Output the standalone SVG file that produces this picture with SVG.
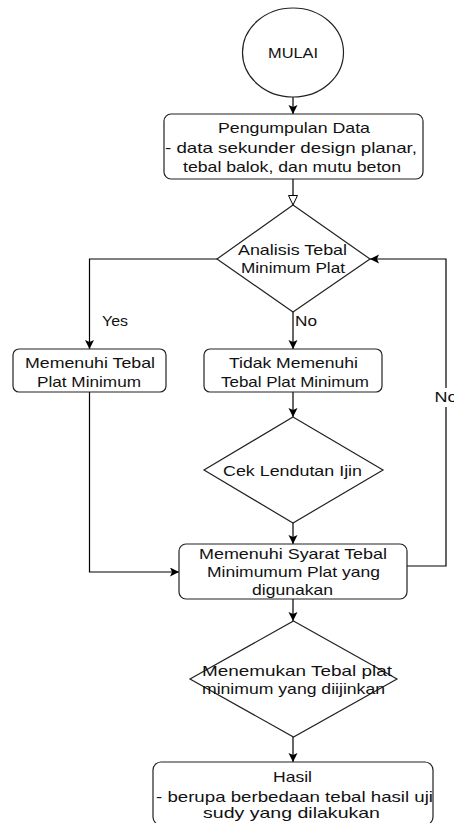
<svg xmlns="http://www.w3.org/2000/svg" width="454" height="823" viewBox="0 0 454 823">
<defs>
<marker id="arr" markerUnits="userSpaceOnUse" markerWidth="10" markerHeight="10" refX="9" refY="4.5" orient="auto">
<path d="M0,0 L9,4.5 L0,9 L2,4.5 Z" fill="#000"/>
</marker>
<marker id="open" markerUnits="userSpaceOnUse" markerWidth="12" markerHeight="12" refX="10" refY="5" orient="auto">
<path d="M0.5,0.5 L10,5 L0.5,9.5 Z" fill="#fff" stroke="#000" stroke-width="1"/>
</marker>
<style>
.s{fill:#fff;stroke:#222;stroke-width:1.2}
.c{fill:none;stroke:#000;stroke-width:1.2}
text{font-family:"Liberation Sans",Arial,sans-serif;font-size:15px;fill:#111}
.m{text-anchor:middle}
</style>
</defs>
<rect width="454" height="823" fill="#fff"/>
<g id="connectors">
<path class="c" d="M293,97 V114" marker-end="url(#arr)"/>
<path class="c" d="M293,179 V205" marker-end="url(#open)"/>
<path class="c" d="M217,259 H89.5 V349" marker-end="url(#arr)"/>
<path class="c" d="M293,312 V349" marker-end="url(#arr)"/>
<path class="c" d="M293,392 V417" marker-end="url(#arr)"/>
<path class="c" d="M293,523 V544" marker-end="url(#arr)"/>
<path class="c" d="M89.5,392 V572 H179" marker-end="url(#arr)"/>
<path class="c" d="M407,566 H446 V259 H370" marker-end="url(#arr)"/>
<path class="c" d="M293,599 V621" marker-end="url(#arr)"/>
<path class="c" d="M293,737 V762" marker-end="url(#arr)"/>
<text x="102" y="326" textLength="26" lengthAdjust="spacingAndGlyphs">Yes</text>
<text x="295" y="326" textLength="22" lengthAdjust="spacingAndGlyphs">No</text>
<rect x="434" y="388" width="20" height="19" fill="#fff"/>
<text x="446" y="402" class="m" textLength="23" lengthAdjust="spacingAndGlyphs">No</text>
</g>
<g id="mulai">
<ellipse class="s" cx="293" cy="52.5" rx="50.5" ry="44.5"/>
<text x="293" y="58" class="m" textLength="50" lengthAdjust="spacingAndGlyphs">MULAI</text>
</g>
<g id="pengumpulan">
<rect class="s" x="164" y="114" width="259" height="65" rx="7"/>
<text x="294" y="133" class="m" textLength="152" lengthAdjust="spacingAndGlyphs">Pengumpulan Data</text>
<text x="291" y="152.5" class="m" textLength="252" lengthAdjust="spacingAndGlyphs">- data sekunder design planar,</text>
<text x="292" y="172" class="m" textLength="218" lengthAdjust="spacingAndGlyphs">tebal balok, dan mutu beton</text>
</g>
<g id="analisis">
<polygon class="s" points="293,205 370,259 293,312 217,259"/>
<text x="292.5" y="255" class="m" textLength="109" lengthAdjust="spacingAndGlyphs">Analisis Tebal</text>
<text x="293" y="273" class="m" textLength="104" lengthAdjust="spacingAndGlyphs">Minimum Plat</text>
</g>
<g id="memenuhi">
<rect class="s" x="13" y="349" width="153" height="43" rx="6"/>
<text x="90" y="368" class="m" textLength="130" lengthAdjust="spacingAndGlyphs">Memenuhi Tebal</text>
<text x="89" y="387" class="m" textLength="104" lengthAdjust="spacingAndGlyphs">Plat Minimum</text>
</g>
<g id="tidak">
<rect class="s" x="204" y="349" width="178" height="43" rx="6"/>
<text x="293.5" y="368" class="m" textLength="129" lengthAdjust="spacingAndGlyphs">Tidak Memenuhi</text>
<text x="295" y="387" class="m" textLength="148" lengthAdjust="spacingAndGlyphs">Tebal Plat Minimum</text>
</g>
<g id="cek">
<polygon class="s" points="293,417 383,470 293,523 204,470"/>
<text x="292.5" y="476" class="m" textLength="139" lengthAdjust="spacingAndGlyphs">Cek Lendutan Ijin</text>
</g>
<g id="syarat">
<rect class="s" x="179" y="544" width="228" height="55" rx="7"/>
<text x="293" y="559" class="m" textLength="188" lengthAdjust="spacingAndGlyphs">Memenuhi Syarat Tebal</text>
<text x="293.5" y="577" class="m" textLength="173" lengthAdjust="spacingAndGlyphs">Minimumum Plat yang</text>
<text x="292.5" y="595" class="m" textLength="81" lengthAdjust="spacingAndGlyphs">digunakan</text>
</g>
<g id="menemukan">
<polygon class="s" points="293.5,621 397,679 293.5,737 190,679"/>
<text x="297" y="676" class="m" textLength="190" lengthAdjust="spacingAndGlyphs">Menemukan Tebal plat</text>
<text x="293.5" y="694" class="m" textLength="183" lengthAdjust="spacingAndGlyphs">minimum yang diijinkan</text>
</g>
<g id="hasil">
<rect class="s" x="153" y="762" width="280" height="63" rx="8"/>
<text x="292.5" y="782" class="m" textLength="39" lengthAdjust="spacingAndGlyphs">Hasil</text>
<text x="294.5" y="802" class="m" textLength="277" lengthAdjust="spacingAndGlyphs">- berupa berbedaan tebal hasil uji</text>
<text x="291.5" y="818" class="m" textLength="177" lengthAdjust="spacingAndGlyphs">sudy yang dilakukan</text>
</g>
</svg>
